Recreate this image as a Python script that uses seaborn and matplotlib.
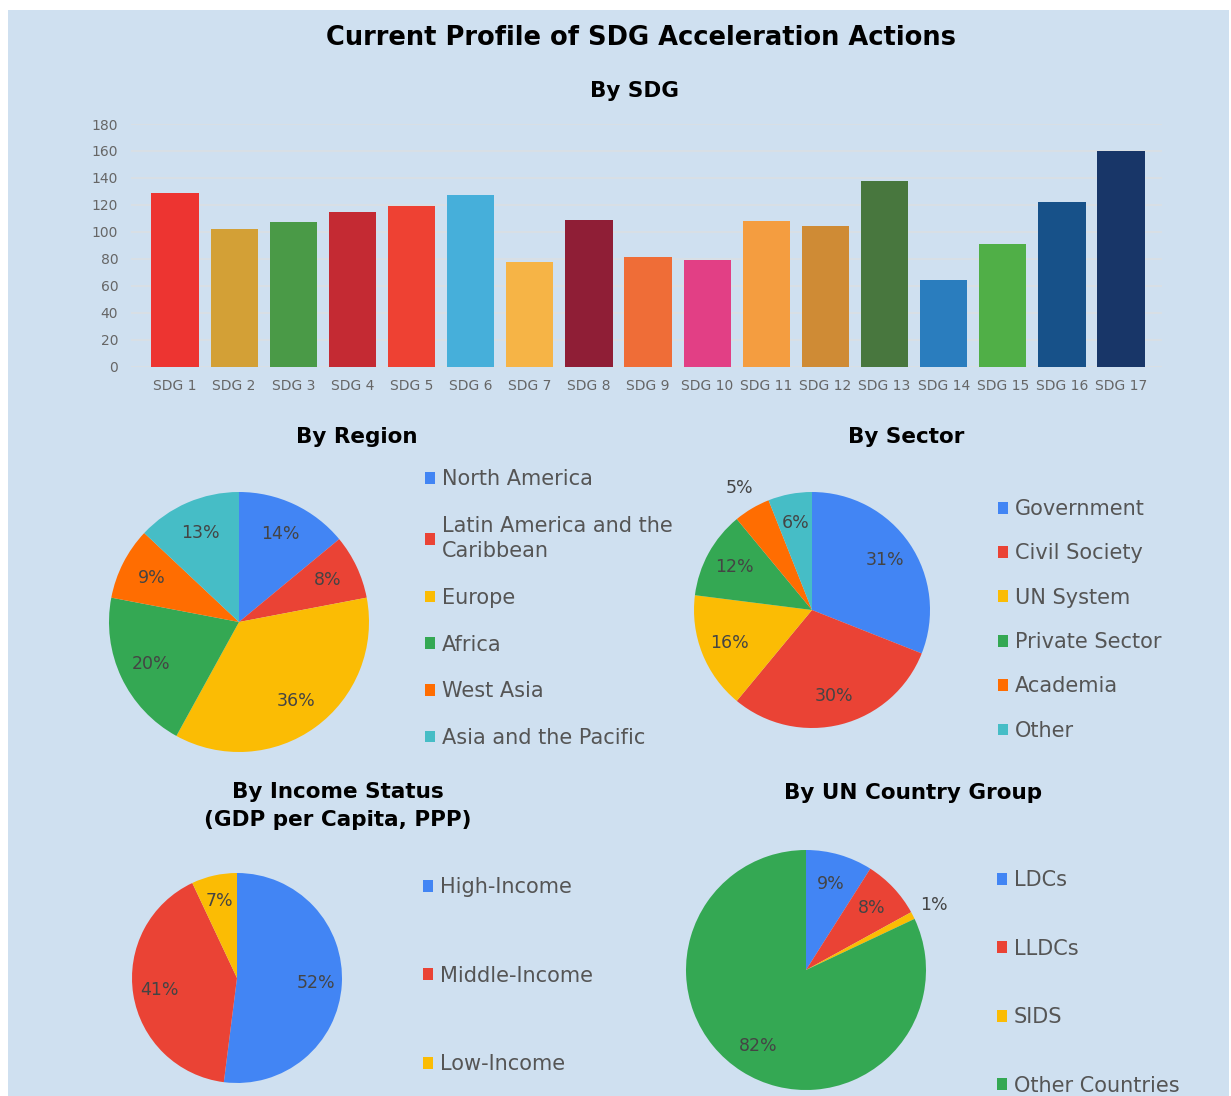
import matplotlib
matplotlib.use("Agg")
import matplotlib.pyplot as plt
from matplotlib.patches import Rectangle, Patch
import numpy as np
import pandas as pd
import seaborn as sns

# ---------------- data ----------------
sdg_labels = [f"SDG {i}" for i in range(1, 18)]
sdg_counts = [129, 102, 107, 115, 119, 127, 78, 109, 81, 79, 108, 104, 138, 64, 91, 122, 160]
sdg_colors = ["#ED3431", "#D3A036", "#4A9A47", "#C42A33", "#EE4133", "#46AFDA",
              "#F6B446", "#8F1E36", "#EF6D37", "#E23F85", "#F49D40", "#CF8B35",
              "#48773E", "#2A7DBE", "#50AF47", "#175189", "#183668"]
y_ticks = [0, 20, 40, 60, 80, 100, 120, 140, 160, 180]

region_labels = ["North America", "Latin America and the\nCaribbean", "Europe",
                 "Africa", "West Asia", "Asia and the Pacific"]
region_pct = [14, 8, 36, 20, 9, 13]

sector_labels = ["Government", "Civil Society", "UN System", "Private Sector",
                 "Academia", "Other"]
sector_pct = [31, 30, 16, 12, 5, 6]

income_labels = ["High-Income", "Middle-Income", "Low-Income"]
income_pct = [52, 41, 7]

group_labels = ["LDCs", "LLDCs", "SIDS", "Other Countries"]
group_pct = [9, 8, 1, 82]

g_colors = ["#4285F4", "#EA4335", "#FBBC04", "#34A853", "#FF6D01", "#46BDC6"]

# ---------------- style ----------------
BG = "#CFE0F0"
sns.set_style("white")
plt.rcParams["font.family"] = ["DejaVu Sans"]

W, H = 1231, 1096
fig = plt.figure(figsize=(W / 100, H / 100), dpi=100)
fig.patch.set_facecolor("white")
fig.add_artist(Rectangle((8 / W, 0), (1229 - 8) / W, (H - 10) / H,
                         transform=fig.transFigure, facecolor=BG,
                         edgecolor="none", zorder=-10))

fig.text(641 / W, 1 - 38 / H, "Current Profile of SDG Acceleration Actions",
         ha="center", va="center", fontsize=18.5, fontweight="bold",
         family=["DejaVu Sans"], color="black")

def subtitle(x, y, s):
    fig.text(x / W, 1 - y / H, s, ha="center", va="center", fontsize=15.5,
             fontweight="bold", color="black", linespacing=1.45)

subtitle(635, 91, "By SDG")
subtitle(357, 437, "By Region")
subtitle(906, 437, "By Sector")
subtitle(338, 806, "By Income Status\n(GDP per Capita, PPP)")
subtitle(913, 793, "By UN Country Group")

# ---------------- bar chart ----------------
df = pd.DataFrame({"sdg": sdg_labels, "count": sdg_counts})
ax = fig.add_axes([130.7 / W, (H - 366.7) / H, (1162.4 - 130.7) / W, (366.7 - 124) / H])
ax.patch.set_alpha(0)
sns.barplot(data=df, x="sdg", y="count", hue="sdg", palette=sdg_colors,
            legend=False, ax=ax, width=0.8, saturation=1, linewidth=0)
ax.set_xlim(-0.75, 16.7)
ax.set_ylim(0, 180)
ax.set_yticks(y_ticks)
ax.set_xlabel("")
ax.set_ylabel("")
ax.set_axisbelow(True)
ax.grid(axis="y", color="#DADFE4", linewidth=1.3)
ax.grid(axis="x", visible=False)
for s in ax.spines.values():
    s.set_visible(False)
ax.tick_params(axis="both", length=0, labelsize=10, labelcolor="#666666")
ax.tick_params(axis="y", pad=9)
ax.tick_params(axis="x", pad=9)

# ---------------- pies ----------------
L = 1.3

def pie(cx, cy, r, values, labels, leg_x, leg_y, spacing):
    pax = fig.add_axes([(cx - L * r) / W, (H - cy - L * r) / H, 2 * L * r / W, 2 * L * r / H])
    cols = g_colors[:len(values)]
    wedges, _, autos = pax.pie(values, colors=cols, startangle=90, counterclock=False,
                               autopct="%.0f%%", pctdistance=0.75,
                               wedgeprops=dict(linewidth=0),
                               textprops=dict(color="#444444", fontsize=12.5))
    for v, t in zip(values, autos):
        if v <= 5:
            x, y = t.get_position()
            t.set_position((x * 1.2 / 0.75, y * 1.2 / 0.75))
    pax.set_xlim(-L, L)
    pax.set_ylim(-L, L)
    pax.set_aspect("equal")
    handles = [Patch(facecolor=c, edgecolor="none") for c in cols]
    leg = fig.legend(handles, labels, loc="upper left",
                     bbox_to_anchor=(leg_x / W, 1 - leg_y / H), bbox_transform=fig.transFigure,
                     frameon=False, fontsize=15, labelcolor="#555555", borderpad=0,
                     borderaxespad=0, handlelength=0.5, handleheight=0.5,
                     handletextpad=0.3, labelspacing=spacing)
    for t in leg.get_texts():
        t.set_linespacing(1.35)

pie(239, 622, 130, region_pct, region_labels, 425, 469, 1.28)
pie(812, 610, 118, sector_pct, sector_labels, 998, 499, 1.17)
pie(237, 978, 105, income_pct, income_labels, 423, 877, 3.3)
pie(806, 970, 120, group_pct, group_labels, 997, 870, 2.33)

fig.savefig("out.png", dpi=100, facecolor="white")
